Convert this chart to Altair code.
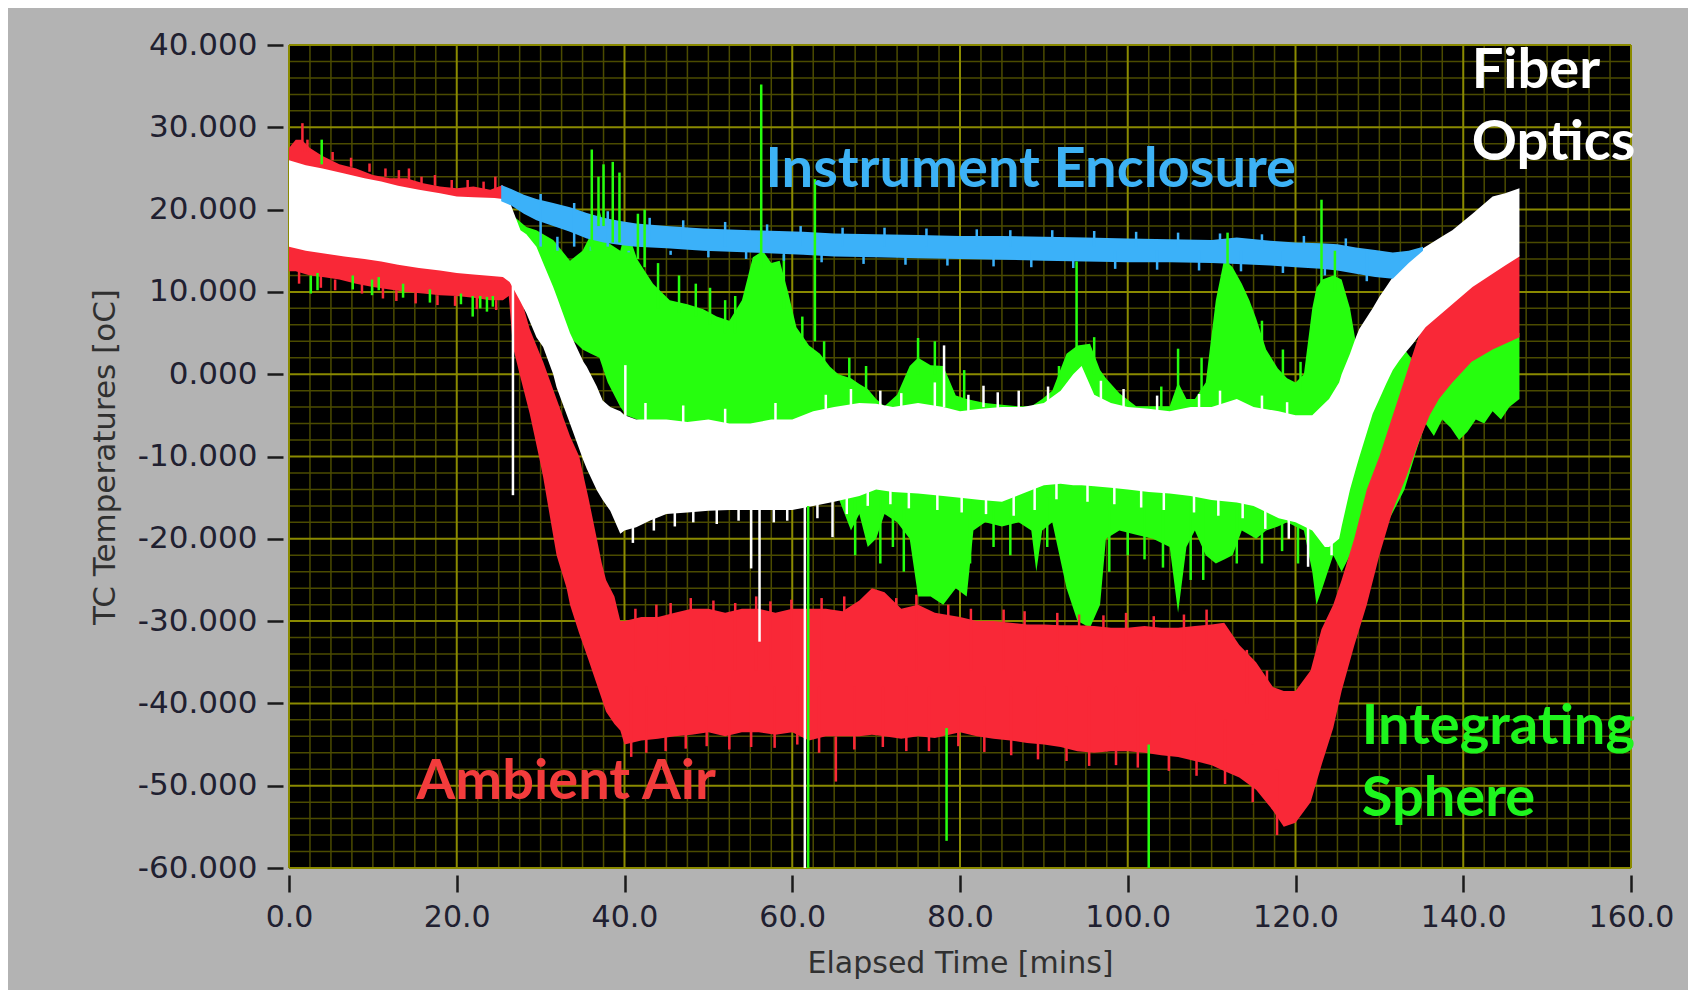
import altair as alt
import pandas as pd

# ---------------- data ----------------
# Ambient Air (red) band: time [min], upper and lower envelope [degC]
RED_T = [0, 0.8, 1.5, 2.5, 4, 6, 8, 10, 12, 14,
         16, 18, 20, 22, 24, 25.5, 26.2, 26.7, 27.5, 28.7,
         29.9, 30.3, 31.9, 33.1, 33.5, 34.6, 35.7, 37.3, 37.8, 38.8,
         39.5, 40, 42, 44, 46, 48, 50, 52, 54, 56,
         58, 60, 62, 64, 66, 68, 69.5, 71, 73, 75,
         77, 80, 82, 84, 86, 88, 90, 92, 94, 96,
         98, 100, 102, 104, 106, 108, 110, 111.5, 113.3, 115.3,
         117.3, 118.6, 120, 121.8, 123.1, 124.5, 125.5, 127, 128.5, 130,
         131.6, 133.2, 134.8, 136, 137.1, 138.7, 141, 143.5, 146.7]
RED_HI = [27.5, 28.5, 28.5, 27.5, 26.5, 25.5, 25.0, 24.2, 23.8, 23.8,
          23.2, 22.8, 22.6, 22.8, 22.4, 23.0, 21.0, 15.0, 9.8, 5.5,
          2.5, 1.5, -3.0, -6.4, -7.5, -10.0, -15.0, -23.0, -25.0, -27.0,
          -30.0, -30.0, -29.5, -29.5, -29.0, -28.5, -28.5, -29.0, -28.5, -28.5,
          -29.0, -28.5, -28.5, -28.5, -28.8, -27.5, -26.0, -26.5, -28.5, -28.0,
          -29.0, -29.5, -30.0, -30.0, -30.2, -30.4, -30.4, -30.5, -30.5, -30.6,
          -30.8, -30.8, -30.6, -30.8, -30.8, -30.6, -30.4, -30.2, -32.9, -35.0,
          -38.0, -38.5, -38.5, -36.0, -31.0, -28.0, -25.0, -20.0, -14.0, -10.0,
          -5.0, 0.0, 5.0, 6.5, 7.8, 9.0, 10.8, 12.5, 14.5]
RED_LO = [12.5, 12.5, 12.3, 12.0, 11.8, 11.5, 11.0, 10.6, 10.3, 10.0,
          9.8, 9.6, 9.5, 9.3, 9.0, 9.0, 9.5, 3.3, 0.0, -4.8,
          -10.5, -12.5, -22.0, -26.0, -28.0, -31.5, -34.7, -39.5, -41.0, -42.5,
          -43.3, -45.0, -44.5, -44.3, -44.0, -43.8, -43.5, -44.0, -43.5, -43.5,
          -43.8, -43.5, -44.5, -44.0, -44.0, -44.0, -43.8, -44.0, -44.3, -44.0,
          -44.2, -43.5, -44.0, -44.3, -44.5, -44.8, -45.0, -45.3, -45.8, -46.0,
          -45.8, -45.8, -46.0, -46.3, -46.5, -47.0, -47.5, -48.2, -49.0, -50.5,
          -53.0, -55.0, -54.5, -52.0, -47.5, -43.0, -38.5, -33.0, -28.0, -22.0,
          -16.5, -12.5, -8.0, -5.0, -3.0, -1.0, 1.5, 3.0, 4.5]

# Fiber Optics (white) band
WHITE_T = [0, 2, 4, 6.6, 9, 11, 13, 15.5, 18, 20,
           22, 24.5, 25.5, 26.3, 26.7, 27.6, 28.3, 29.5, 30.3, 31.5,
           31.9, 33.5, 35.1, 35.5, 36.7, 37.4, 38.3, 39.5, 40, 41.4,
           43, 45, 47.5, 50, 52.5, 55, 57.5, 60, 62.5, 65,
           68, 70, 72, 75, 78, 80, 82.5, 85, 87.5, 90,
           92, 93.5, 94.5, 96, 98, 100, 102.5, 105, 107.5, 110,
           113, 115, 118, 120, 122, 123.5, 124, 125.2, 125.5, 126.5,
           127.2, 127.6, 129.2, 130, 130.8, 131.6, 132.4, 133, 134, 135.5,
           137.9, 138.7, 141.1, 143.5, 145, 146.7]
WHITE_HI = [26.0, 25.4, 25.0, 24.4, 23.8, 23.4, 22.9, 22.4, 22.0, 21.6,
            21.5, 21.4, 21.3, 21.0, 19.9, 17.5, 17.0, 15.5, 13.5, 10.6,
            9.5, 5.0, 1.5, 0.9, -1.5, -3.2, -4.0, -4.5, -5.0, -5.5,
            -5.5, -5.5, -5.8, -5.5, -6.0, -6.0, -5.5, -5.5, -4.5, -4.0,
            -3.5, -3.6, -4.0, -3.5, -4.0, -4.5, -4.2, -4.0, -4.0, -3.5,
            -2.0, 0.0, 1.0, -2.5, -3.5, -4.0, -4.2, -4.5, -4.0, -4.0,
            -3.0, -4.0, -4.5, -5.0, -5.0, -3.5, -3.0, -1.0, 0.0, 2.5,
            4.5, 5.5, 8.0, 9.4, 10.6, 11.8, 12.8, 13.5, 14.5, 15.5,
            17.0, 17.5, 19.5, 21.6, 22.0, 22.6]
WHITE_LO = [15.5, 15.0, 14.7, 14.3, 14.0, 13.7, 13.3, 12.9, 12.6, 12.3,
            12.1, 11.9, 11.8, 11.2, 10.5, 8.8, 7.4, 4.5, 3.3, 0.0,
            -1.6, -6.0, -10.5, -11.5, -14.1, -15.3, -16.6, -19.4, -19.0, -18.6,
            -17.8, -17.0, -16.8, -16.6, -16.5, -16.5, -16.5, -16.5, -16.0, -15.5,
            -14.8, -14.0, -14.3, -14.5, -14.8, -15.0, -15.3, -15.5, -14.5, -13.5,
            -13.3, -13.5, -13.5, -13.6, -13.8, -14.0, -14.3, -14.5, -14.8, -15.3,
            -15.6, -16.0, -17.5, -18.0, -19.0, -21.0, -21.0, -20.0, -18.5, -14.0,
            -11.5, -10.1, -4.8, -3.0, -1.2, 0.5, 1.7, 2.5, 3.7, 5.7,
            7.8, 8.5, 10.6, 12.2, 13.2, 14.3]

# Integrating Sphere (green) band
GREEN_T = [25.5, 27, 28.3, 29.5, 31.5, 33.5, 35, 36, 37, 38,
           39.5, 40.2, 41.5, 43.4, 45.4, 47.5, 49.4, 51, 52.5, 54,
           55.3, 56.5, 57.5, 58.5, 59.5, 60.5, 62, 63.3, 64.5, 65.5,
           67, 68, 69, 70, 71, 72.5, 74, 75, 76.5, 78,
           79.5, 80.8, 81.6, 83, 85, 87, 88.5, 89.1, 89.8, 91,
           92.7, 94, 95.5, 96.7, 97.4, 99, 101, 103, 105, 106,
           107, 108, 109.3, 110.5, 111.5, 112.5, 113.6, 114.5, 115.3, 116.5,
           117.9, 119, 120, 121, 122, 122.5, 123.2, 124.5, 125.5, 126.5,
           127.5, 129, 131, 133, 134.5, 135.5, 136.5, 137.5, 138.5, 139.5,
           140.5, 141.5, 142.5, 143.5, 144.5, 145.5, 146.7]
GREEN_HI = [19.0, 19.0, 17.9, 17.5, 16.3, 13.8, 15.0, 17.0, 20.0, 16.0,
            15.0, 17.9, 14.0, 11.0, 9.0, 8.5, 7.9, 7.0, 6.5, 9.0,
            14.2, 15.0, 13.5, 13.8, 10.0, 5.7, 3.5, 2.5, 0.9, 0.0,
            -0.5, -1.2, -1.8, -3.0, -3.9, -2.5, 1.0, 2.0, 1.1, 1.0,
            -2.6, -3.0, -3.2, -3.5, -3.7, -3.9, -3.9, -3.5, -3.0, -2.0,
            2.5, 3.5, 3.7, 0.5, -0.5, -2.3, -3.9, -3.9, -3.9, -1.0,
            -3.0, -3.0, -1.0, 9.0, 14.0, 13.0, 11.0, 9.0, 6.8, 3.0,
            0.7, -0.5, -1.0, 0.0, 8.0, 10.5, 11.5, 12.0, 11.5, 8.0,
            2.0, -2.0, 0.0, 3.0, 1.0, 0.0, 0.5, 1.0, 2.0, 2.5,
            3.5, 4.0, 4.5, 5.0, 5.5, 5.5, 5.0]
GREEN_LO = [17.0, 15.0, 15.0, 14.0, 10.0, 4.5, 3.0, 2.5, 2.0, -1.0,
            -4.0, -5.0, -5.5, -6.0, -6.5, -6.0, -7.0, -6.5, -7.0, -6.5,
            -6.5, -7.0, -6.8, -6.5, -6.5, -6.0, -6.0, -6.0, -6.0, -15.0,
            -19.0, -17.0, -21.0, -20.0, -17.0, -18.0, -20.0, -27.0, -27.0, -28.0,
            -26.0, -27.0, -19.0, -18.0, -18.5, -18.0, -19.0, -24.0, -19.0, -18.0,
            -26.0, -30.0, -30.8, -28.0, -20.0, -19.0, -19.5, -20.0, -21.0, -29.0,
            -21.0, -19.0, -22.0, -23.0, -22.5, -22.0, -19.0, -19.5, -20.0, -19.0,
            -18.5, -18.0, -18.5, -19.0, -24.0, -28.0, -26.0, -22.0, -24.0, -22.0,
            -22.0, -22.0, -18.0, -14.0, -9.0, -6.0, -7.5, -5.5, -6.5, -8.0,
            -7.0, -5.5, -6.0, -4.5, -5.5, -4.0, -3.0]

# Instrument Enclosure (blue) band
BLUE_T = [25.3, 26.5, 28, 29.5, 31.5, 33.5, 35.5, 37.5, 39.5, 41.4,
          45, 49.4, 55, 61.3, 65, 70, 75, 80, 85, 90,
          95, 100, 105, 110, 113, 117, 120, 123, 125, 127.2,
          129.5, 131.6, 133.5, 135.2]
BLUE_HI = [23.0, 22.5, 21.8, 21.3, 20.8, 20.3, 19.6, 19.0, 18.6, 18.3,
           18.0, 17.7, 17.5, 17.3, 17.1, 17.0, 16.9, 16.8, 16.8, 16.7,
           16.6, 16.5, 16.4, 16.3, 16.6, 16.2, 16.0, 15.9, 15.8, 15.4,
           15.1, 14.8, 15.0, 15.5]
BLUE_LO = [21.0, 20.5, 19.5, 18.7, 18.0, 17.3, 16.5, 16.0, 15.7, 15.5,
           15.3, 15.0, 14.8, 14.5, 14.3, 14.2, 14.1, 14.0, 13.9, 13.8,
           13.7, 13.6, 13.6, 13.5, 13.4, 13.2, 13.0, 12.8, 12.6, 12.2,
           11.8, 11.6, 13.5, 15.0]

# isolated spikes (time, from, to)
GREEN_SPIKE_T = [2.6, 3.4, 3.9, 7.6, 9.9, 10.7, 13.6, 16.8, 20.5, 21.9,
                 22.8, 23.6, 24.3, 36.1, 36.9, 37.5, 38.6, 39.4, 41.6, 42.4,
                 56.3, 62.7, 75.0, 93.9, 106.0, 111.9, 123.1, 124.7, 61.9, 78.4,
                 102.5]
GREEN_SPIKE_LO = [9.8, 10.2, 25.5, 10.3, 9.6, 10.2, 9.3, 8.7, 8.5, 7.0,
                  8.0, 7.6, 8.2, 15.0, 18.0, 18.0, 16.0, 16.0, 14.0, 13.0,
                  13.0, 4.0, 0.0, 3.0, -4.0, 13.0, 11.0, 10.0, -60.0, -56.7,
                  -60.0]
GREEN_SPIKE_HI = [12.0, 12.3, 28.5, 12.0, 11.5, 11.8, 11.0, 10.3, 9.8, 9.5,
                  9.5, 9.4, 9.5, 27.3, 24.0, 25.5, 25.8, 24.5, 19.5, 20.0,
                  35.2, 23.7, 4.4, 13.7, 3.1, 17.2, 21.2, 15.0, -16.0, -43.0,
                  -45.0]
WHITE_SPIKE_T = [26.7, 40.1, 55.1, 56.1, 61.5, 64.8, 78.1, 82.8, 121.5, 124.3]
WHITE_SPIKE_LO = [-14.7, -6.0, -23.6, -32.5, -60.0, -19.8, -4.0, -4.0, -23.4, -22.0]
WHITE_SPIKE_HI = [11.0, 1.1, -16.0, -16.0, -16.0, -15.0, 3.5, -1.4, -18.0, -18.0]
RED_SPIKE_T = [1.6, 14.3, 24.6, 65.2]
RED_SPIKE_LO = [27.0, 23.0, 22.0, -49.5]
RED_SPIKE_HI = [30.5, 25.0, 24.0, -44.0]

# noisy fringe of the band edges (time, from, to)
RED_TOPF_T = [2.2, 5.2, 7.4, 9.6, 11.5, 13.1, 15.8, 17.4, 19.4, 21.3, 23.2,
              41.3, 43.8, 45.5, 47.9, 50.6, 53.2, 55.7, 57.4, 59.9, 63.5, 66.2,
              72.4, 74.8, 78.6, 81.3, 85.2, 87.7, 91.6, 94.2, 97.1, 99.8, 103.1,
              106.7, 109.4, 114.2, 116.6]
RED_TOPF_LO = [27.0, 26.0, 25.2, 24.6, 24.0, 23.6, 22.9, 22.9, 22.4, 22.4, 22.2,
               -36, -36, -36, -36, -36, -36, -36, -36, -36, -36, -36,
               -36, -36, -36, -36, -36, -36, -36, -36, -36, -36, -36,
               -36, -36, -40, -42]
RED_TOPF_HI = [28.5, 27.0, 26.3, 25.6, 25.0, 24.8, 24.0, 24.2, 23.6, 23.6, 23.4,
               -28.5, -28.0, -27.8, -27.2, -27.5, -27.8, -27.0, -27.6, -27.4, -27.2, -27.0,
               -27.2, -26.8, -28.0, -28.5, -28.6, -28.8, -29.0, -29.2, -29.3, -29.0, -29.4,
               -29.2, -28.6, -33.5, -36.0]
RED_BOTF_T = [1.2, 3.8, 5.5, 8.7, 11.2, 12.8, 15.1, 17.7, 19.8, 22.4, 24.7,
              40.8, 42.6, 44.9, 47.3, 49.8, 52.5, 55.1, 57.9, 60.6, 63.2, 67.4,
              70.8, 73.6, 76.3, 79.8, 82.9, 86.1, 89.3, 92.7, 95.4, 98.6, 101.2,
              104.9, 108.2, 111.6, 114.9, 117.8]
RED_BOTF_LO = [11.0, 10.5, 10.2, 9.8, 9.2, 8.9, 8.6, 8.4, 8.3, 7.9, 7.8,
               -46.5, -46.0, -45.8, -45.5, -45.2, -45.6, -45.3, -45.4, -45.0, -46.0, -45.6,
               -45.3, -45.8, -45.8, -45.2, -45.9, -46.3, -46.8, -47.0, -47.6, -47.5, -47.8,
               -48.2, -48.8, -49.8, -52.0, -56.0]
RED_BOTF_HI = [12.5, 12.0, 11.5, 11.0, 10.5, 10.2, 9.9, 9.6, 9.5, 9.3, 9.0,
               -38, -38, -38, -38, -38, -38, -38, -38, -38, -38, -38,
               -38, -38, -38, -38, -38, -38, -38, -38, -38, -38, -38,
               -38, -40, -42, -45, -48]
WHITE_BOTF_T = [41, 43.5, 46, 48.2, 51, 53.6, 57.8, 59.4, 63, 66.5, 69, 71.7, 73.9, 77.3,
                80.2, 83.1, 86.4, 88.9, 91.5, 95.2, 98.4, 101.6, 104.3, 107.9, 110.8,
                113.7, 116.4, 119.2]
WHITE_BOTF_LO = [-20.5, -19.0, -18.5, -18.0, -18.2, -17.8, -18.0, -17.8, -17.5, -17.0,
                 -16.0, -15.8, -16.3, -16.5, -16.8, -17.0, -17.2, -16.5, -15.2, -15.5,
                 -15.8, -16.2, -16.5, -16.8, -17.2, -17.5, -18.8, -20.0]
WHITE_TOPF_T = [42.5, 47, 52, 58, 64, 67, 70.5, 73, 77, 81, 84.5, 87, 90.5, 96.8,
                99.5, 103.5, 108.5, 111, 116, 119]
WHITE_TOPF_HI = [-3.5, -3.8, -4.2, -3.5, -2.5, -1.8, -2.0, -2.3, -1.0, -2.5, -2.2, -2.0,
                 -1.5, -0.8, -1.8, -2.6, -2.4, -2.0, -2.6, -3.4]
BLUE_TOPF_T = [30, 34, 38, 43, 47, 52, 57, 61, 66, 71, 76, 82, 86, 91, 96, 101,
               106, 111, 116, 121, 126]
BLUE_TOPF_HI = [21.9, 20.8, 19.8, 19.0, 18.7, 18.5, 18.2, 18.0, 17.8, 17.8, 17.7,
                17.6, 17.5, 17.5, 17.4, 17.3, 17.2, 17.1, 17.0, 16.8, 16.5]
BLUE_BOTF_T = [32, 36, 40.5, 45.5, 50, 54.5, 59, 63.5, 68.5, 73.5, 78.5, 84, 88.5,
               93.5, 98.5, 103.5, 108.5, 113.5, 118.5, 123.5, 128.5]
BLUE_BOTF_LO = [16.7, 15.5, 14.8, 14.5, 14.2, 14.0, 13.8, 13.6, 13.4, 13.3, 13.2,
                13.1, 13.0, 12.9, 12.8, 12.7, 12.6, 12.5, 12.3, 12.0, 11.3]
GREEN_TOPF_T = [44, 46.5, 48.5, 50.2, 52, 53.2, 59, 61.2, 63.8, 66.8, 68.8, 77,
                80.5, 91.8, 96, 104, 108.8, 116, 118.5, 120.6]
GREEN_TOPF_LO = [8, 7.5, 7, 6, 5, 5, 8, 3, 1, -1, -2, 0, -3, -2, 0, -4.5, -3, 2, -1, -2]
GREEN_TOPF_HI = [13.5, 12.0, 11.0, 10.5, 9.0, 9.5, 14.5, 7.0, 4.0, 2.0, 1.0, 4.0,
                 0.5, 1.0, 4.5, -1.5, 2.0, 6.5, 3.0, 1.5]
GREEN_BOTF_T = [67.5, 70.5, 72, 73.3, 81.2, 84, 86, 90.4, 97.8, 100, 102, 104.2,
                107.5, 109, 113, 116, 118.4, 120.3]
GREEN_BOTF_LO = [-22, -23, -21, -24, -23, -21, -22, -21, -24, -22, -22.5, -23.5,
                 -25, -25, -23, -23, -21.5, -23]

# annotations
LABEL_TEXT = ["Instrument Enclosure", "Fiber\nOptics", "Ambient Air", "Integrating\nSphere"]
LABEL_T = [56.8, 141.0, 15.2, 127.9]
LABEL_V = [22.7, 34.8, -51.6, -44.9]
LABEL_COLOR = ["#3db2f5", "#ffffff", "#f23c3c", "#1ef51e"]

# axis ticks / grid
X_TICKS = [0, 20, 40, 60, 80, 100, 120, 140, 160]
Y_TICKS = [-60, -50, -40, -30, -20, -10, 0, 10, 20, 30, 40]
X_MINOR = [i * 2.5 for i in range(1, 64) if (i * 2.5) % 20 != 0]
Y_MINOR = [v for v in range(-58, 40, 2) if v % 10 != 0]

RED = "#f92837"
WHITE = "#ffffff"
GREEN = "#26fe0e"
BLUE = "#3bb1f9"
GRID_MINOR = "#4b4b00"
GRID_MAJOR = "#8a8a00"

# ---------------- chart ----------------
xs = alt.Scale(domain=[0, 160], nice=False, zero=False)
ys = alt.Scale(domain=[-60, 40], nice=False, zero=False)

x_axis = alt.Axis(values=X_TICKS, format=".1f", title="Elapsed Time [mins]",
                  grid=False, domain=False, offset=7, tickSize=17, tickWidth=2.5,
                  tickColor="#1a1a1a", labelFont="DejaVu Sans", labelFontSize=30,
                  labelColor="#202030", labelPadding=10, labelFlush=False,
                  labelOverlap=False, titleFont="DejaVu Sans", titleFontSize=30,
                  titleFontWeight="normal", titleColor="#303030", titlePadding=16)
y_axis = alt.Axis(values=Y_TICKS,
                  labelExpr="(datum.value < 0 ? '-' : '') + format(abs(datum.value), '.3f')",
                  title="TC Temperatures [oC]", grid=False, domain=False, offset=6,
                  tickSize=16, tickWidth=2.5, tickColor="#1a1a1a",
                  labelFont="DejaVu Sans", labelFontSize=31, labelColor="#202030",
                  labelPadding=10, labelOverlap=False, labelFlush=False,
                  titleFont="DejaVu Sans", titleFontSize=31, titleFontWeight="normal",
                  titleColor="#303030", titlePadding=16)


def X(field):
    return alt.X(field, scale=xs, axis=x_axis)


def Y(field):
    return alt.Y(field, scale=ys, axis=y_axis)


def band(t, hi, lo, color):
    df = pd.DataFrame({"t": t, "hi": hi, "lo": lo})
    return alt.Chart(df).mark_area(color=color, opacity=1, clip=True).encode(
        x=X("t:Q"), y=Y("hi:Q"), y2="lo:Q")


def spikes(t, lo, hi, color, width=2.5):
    df = pd.DataFrame({"t": t})
    df["lo"] = lo
    df["hi"] = hi
    return alt.Chart(df).mark_rule(color=color, strokeWidth=width, clip=True).encode(
        x=X("t:Q"), y=Y("lo:Q"), y2="hi:Q")


minor_x = alt.Chart(pd.DataFrame({"t": X_MINOR})).mark_rule(
    color=GRID_MINOR, strokeWidth=1.5).encode(x=X("t:Q"))
minor_y = alt.Chart(pd.DataFrame({"hi": Y_MINOR})).mark_rule(
    color=GRID_MINOR, strokeWidth=1.5).encode(y=Y("hi:Q"))
major_x = alt.Chart(pd.DataFrame({"t": X_TICKS})).mark_rule(
    color=GRID_MAJOR, strokeWidth=2).encode(x=X("t:Q"))
major_y = alt.Chart(pd.DataFrame({"hi": Y_TICKS})).mark_rule(
    color=GRID_MAJOR, strokeWidth=2).encode(y=Y("hi:Q"))

labels_df = pd.DataFrame({"t": LABEL_T, "hi": LABEL_V, "label": LABEL_TEXT, "color": LABEL_COLOR})
labels = alt.Chart(labels_df).mark_text(
    align="left", baseline="alphabetic", font="Lato", fontSize=56, fontWeight="bold",
    lineBreak="\n", lineHeight=72,
).encode(
    x=X("t:Q"), y=Y("hi:Q"),
    text="label:N",
    color=alt.Color("color:N", scale=None),
)

chart = alt.layer(
    minor_x, minor_y, major_x, major_y,
    band(GREEN_T, GREEN_HI, GREEN_LO, GREEN),
    spikes(GREEN_TOPF_T, GREEN_TOPF_LO, GREEN_TOPF_HI, GREEN),
    spikes(GREEN_BOTF_T, GREEN_BOTF_LO, -15, GREEN),
    band(RED_T, RED_HI, RED_LO, RED),
    spikes(RED_TOPF_T, RED_TOPF_LO, RED_TOPF_HI, RED),
    spikes(RED_BOTF_T, RED_BOTF_LO, RED_BOTF_HI, RED),
    band(WHITE_T, WHITE_HI, WHITE_LO, WHITE),
    spikes(WHITE_BOTF_T, WHITE_BOTF_LO, -10, WHITE),
    spikes(WHITE_TOPF_T, -8, WHITE_TOPF_HI, WHITE),
    band(BLUE_T, BLUE_HI, BLUE_LO, BLUE),
    spikes(BLUE_TOPF_T, 15.5, BLUE_TOPF_HI, BLUE),
    spikes(BLUE_BOTF_T, BLUE_BOTF_LO, 15.0, BLUE),
    spikes(GREEN_SPIKE_T, GREEN_SPIKE_LO, GREEN_SPIKE_HI, GREEN),
    spikes(WHITE_SPIKE_T, WHITE_SPIKE_LO, WHITE_SPIKE_HI, WHITE),
    spikes(RED_SPIKE_T, RED_SPIKE_LO, RED_SPIKE_HI, RED),
    labels,
).properties(
    width=1342, height=823, background="#b3b3b3",
    padding={"left": 281, "top": 37, "right": 57, "bottom": 122},
    autosize=alt.AutoSizeParams(type="none"),
).configure_view(fill="#000000", strokeWidth=0)

chart.save("out.html", embed_options={"renderer": "svg", "actions": False})
